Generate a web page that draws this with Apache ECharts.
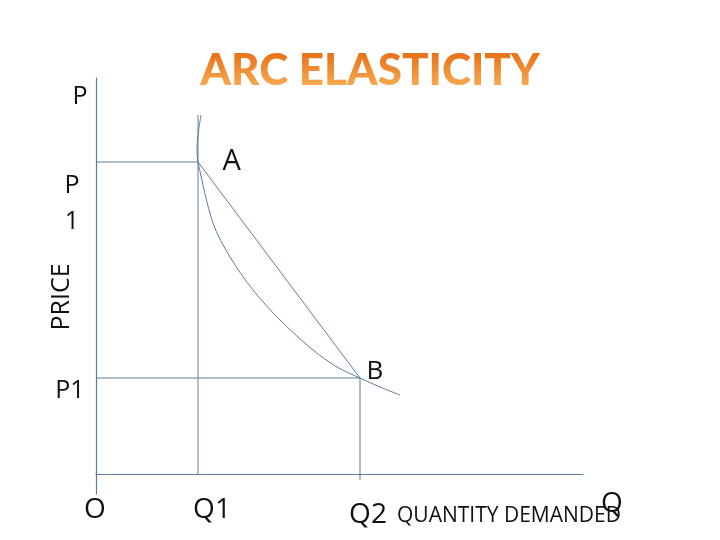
<!DOCTYPE html>
<html>
<head>
<meta charset="utf-8">
<script src="https://cdn.jsdelivr.net/npm/echarts@6/dist/echarts.min.js"></script>
<style>
  html, body { margin: 0; padding: 0; background: #fff; }
  #chart { width: 720px; height: 540px; }
</style>
</head>
<body>
<div id="chart"></div>
<script>
// demand curve (quantity, price)
const curveQ = [105, 101, 102, 117, 134, 157, 184, 217, 241, 264, 284, 304];
const curveP = [359, 326, 312, 251, 217, 184, 154, 124, 107, 96, 87, 79];
// the two points on the arc
const pointNames = ['A', 'B'];
const pointQ = [102, 264];
const pointP = [312, 96];
// axis marks
const qTickLabels = ['O', 'Q1', 'Q2'];
const pTickLabels = ['P\n1', 'P1'];

const lineColor = '#5b7c9c';
const font = '"Open Sans", "Noto Sans", sans-serif';

const chart = echarts.init(document.getElementById('chart'), null, { renderer: 'canvas' });

const guide = (data) => ({
  type: 'line',
  data,
  symbol: 'none',
  silent: true,
  lineStyle: { color: lineColor, width: 1 }
});

const labelStyle = { show: true, color: '#111', fontSize: 29, fontFamily: font, position: 'right' };

chart.setOption({
  animation: false,
  grid: { left: 96, top: 78, width: 487, height: 416 },
  xAxis: {
    type: 'value', min: 0, max: 487,
    axisLine: { show: true, onZero: true, lineStyle: { color: lineColor, width: 1.2 } },
    axisTick: { show: false }, axisLabel: { show: false }, splitLine: { show: false }
  },
  yAxis: {
    type: 'value', min: -20, max: 396,
    axisLine: { show: true, onZero: true, lineStyle: { color: lineColor, width: 1.2 } },
    axisTick: { show: false }, axisLabel: { show: false }, splitLine: { show: false }
  },
  series: [
    {
      // demand curve
      type: 'line',
      data: curveQ.map((q, i) => [q, curveP[i]]),
      smooth: 0.3,
      symbol: 'none',
      lineStyle: { color: lineColor, width: 1 }
    },
    {
      // arc chord A-B
      type: 'line',
      data: [
        { value: [pointQ[0], pointP[0]], label: Object.assign({}, labelStyle, { distance: 24, offset: [0, 0] }) },
        { value: [pointQ[1], pointP[1]], label: Object.assign({}, labelStyle, { distance: 6, offset: [0, -6], fontSize: 26 }) }
      ],
      symbol: 'circle',
      symbolSize: 1,
      itemStyle: { color: lineColor },
      lineStyle: { color: lineColor, width: 1 },
      label: { formatter: (p) => pointNames[p.dataIndex] }
    },
    guide([[0, pointP[0]], [pointQ[0], pointP[0]]]),
    guide([[0, pointP[1]], [pointQ[1], pointP[1]]]),
    guide([[pointQ[0], 0], [pointQ[0], curveP[0]]]),
    guide([[pointQ[1], -6], [pointQ[1], pointP[1]]])
  ]
});

// text annotations placed from the data scale
const px = (q, p) => chart.convertToPixel({ gridIndex: 0 }, [q, p]);
const txt = (text, x, y, size, extra) => Object.assign({
  type: 'text', x, y,
  style: { text, fill: '#111', font: size + 'px ' + font, align: 'center', verticalAlign: 'middle' }
}, extra || {});

const o = px(0, 0);
const q1 = px(pointQ[0], 0);
const q2 = px(pointQ[1], 0);
const pa = px(0, pointP[0]);
const pb = px(0, pointP[1]);

chart.setOption({
  graphic: [
    {
      type: 'text', x: 370, y: 71, z: 10,
      style: {
        text: 'ARC ELASTICITY',
        font: '900 44px Lato, "Open Sans", sans-serif',
        align: 'center', verticalAlign: 'middle',
        fill: '#ee8422'
      }
    },
    {
      // paint the orange fade onto the title only
      type: 'rect', z: 11, silent: true,
      shape: { x: 190, y: 44, width: 360, height: 52 },
      style: {
        blend: 'source-atop',
        fill: new echarts.graphic.LinearGradient(0, 0, 0, 1, [
          { offset: 0, color: '#e26a10' },
          { offset: 0.2, color: '#e8731a' },
          { offset: 1, color: '#fcbb62' }
        ])
      }
    },
    txt('P', 80, 97, 25),
    txt('P', pa[0] - 24, 186, 25),
    txt('1', pa[0] - 24, 222, 25),
    txt('PRICE', 62, 297, 25, { rotation: Math.PI / 2 }),
    txt(pTickLabels[1], pb[0] - 26, pb[1] + 13, 25),
    txt(qTickLabels[0], o[0] - 1, o[1] + 36, 28),
    txt(qTickLabels[1], q1[0] + 14, q1[1] + 36, 28),
    txt(qTickLabels[2], q2[0] + 8, q2[1] + 41, 28),
    txt('QUANTITY DEMANDED', 509, 516, 21),
    txt('Q', 612, 504, 28)
  ]
});
</script>
</body>
</html>
